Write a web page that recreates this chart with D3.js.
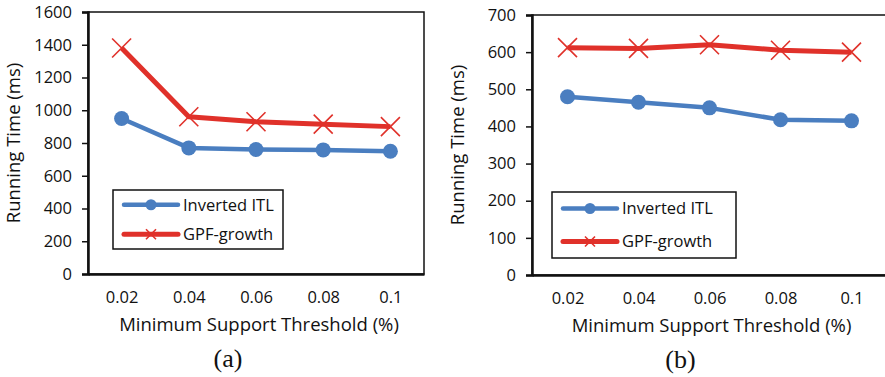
<!DOCTYPE html>
<html>
<head>
<meta charset="utf-8">
<script src="https://cdn.jsdelivr.net/npm/d3@7"></script>
<style>
  body { margin: 0; background: #fff; }
  text { font-family: "Open Sans", sans-serif; fill: #111; }
</style>
</head>
<body>
<div id="chart-area"></div>
<script>
// shared categories
const thresholds = ['0.02', '0.04', '0.06', '0.08', '0.1'];
const seriesNames = ['Inverted ITL', 'GPF-growth'];

// panel (a)
const invertedA = [950, 770, 760, 758, 750];
const gpfA = [1380, 960, 930, 915, 900];
const ticksA = [0, 200, 400, 600, 800, 1000, 1200, 1400, 1600];

// panel (b)
const invertedB = [480, 465, 450, 418, 415];
const gpfB = [612, 610, 620, 605, 600];
const ticksB = [0, 100, 200, 300, 400, 500, 600, 700];

const blue = '#4a7ec0';
const red = '#e0312a';

const svg = d3.select('#chart-area')
  .append('svg')
  .attr('width', 885)
  .attr('height', 377);

const panels = [
  {
    left: 88, right: 424, top: 12, bottom: 274,
    max: 1600, ticks: ticksA, inverted: invertedA, gpf: gpfA, label: '(a)',
    legend: { x: 113, y: 190, w: 170, h: 59 }
  },
  {
    left: 532, right: 887, top: 15, bottom: 275,
    max: 700, ticks: ticksB, inverted: invertedB, gpf: gpfB, label: '(b)',
    legend: { x: 552, y: 192, w: 184, h: 66 }
  }
];

panels.forEach(p => drawPanel(p));

function drawPanel(p) {
  const g = svg.append('g');

  const x = d3.scalePoint()
    .domain(thresholds)
    .range([p.left, p.right])
    .padding(0.5);

  const y = d3.scaleLinear()
    .domain([0, p.max])
    .range([p.bottom, p.top]);

  // frame
  g.append('rect')
    .attr('x', p.left)
    .attr('y', p.top)
    .attr('width', p.right - p.left)
    .attr('height', p.bottom - p.top)
    .attr('fill', 'none')
    .attr('stroke', '#111')
    .attr('stroke-width', 1.5);

  // y axis
  const yAxis = g.append('g')
    .attr('transform', `translate(${p.left},0)`)
    .call(d3.axisLeft(y).tickValues(p.ticks).tickFormat(d3.format('d')).tickSize(6).tickPadding(10));
  yAxis.select('.domain').attr('stroke', '#111').attr('stroke-width', 2.5);
  yAxis.selectAll('.tick line').attr('stroke', '#111').attr('stroke-width', 1.5);
  yAxis.selectAll('text').attr('font-size', '16.5px').attr('font-family', '"Open Sans", sans-serif').attr('fill', '#111');

  // x axis
  const xAxis = g.append('g')
    .attr('transform', `translate(0,${p.bottom})`)
    .call(d3.axisBottom(x).tickSize(0).tickPadding(17));
  xAxis.select('.domain').attr('stroke', '#111').attr('stroke-width', 2.5);
  xAxis.selectAll('text').attr('font-size', '16.5px').attr('font-family', '"Open Sans", sans-serif').attr('fill', '#111');

  // axis titles
  g.append('text')
    .attr('x', (p.left + Math.min(p.right, 885)) / 2 + 3)
    .attr('y', p.bottom + 57)
    .attr('text-anchor', 'middle')
    .attr('font-size', '18.5px')
    .text('Minimum Support Threshold (%)');

  g.append('text')
    .attr('transform', `translate(${p.left - 68},${(p.top + p.bottom) / 2}) rotate(-90)`)
    .attr('text-anchor', 'middle')
    .attr('font-size', '18.5px')
    .text('Running Time (ms)');

  g.append('text')
    .attr('x', (p.left + Math.min(p.right, 885)) / 2 - 28)
    .attr('y', p.bottom + 93)
    .attr('text-anchor', 'middle')
    .attr('font-size', '26px')
    .style('font-family', '"Liberation Serif", serif')
    .text(p.label);

  const line = d3.line()
    .x((d, i) => x(thresholds[i]))
    .y(d => y(d));

  // GPF-growth
  g.append('path')
    .datum(p.gpf)
    .attr('d', line)
    .attr('fill', 'none')
    .attr('stroke', red)
    .attr('stroke-width', 5)
    .attr('stroke-linejoin', 'round');

  g.selectAll('.cross')
    .data(p.gpf)
    .enter().append('path')
    .attr('class', 'cross')
    .attr('d', (d, i) => {
      const cx = x(thresholds[i]), cy = y(d), s = 9.5;
      return `M${cx - s},${cy - s}L${cx + s},${cy + s}M${cx - s},${cy + s}L${cx + s},${cy - s}`;
    })
    .attr('stroke', red)
    .attr('stroke-width', 1.6);

  // Inverted ITL
  g.append('path')
    .datum(p.inverted)
    .attr('d', line)
    .attr('fill', 'none')
    .attr('stroke', blue)
    .attr('stroke-width', 4.5)
    .attr('stroke-linejoin', 'round');

  g.selectAll('.dot')
    .data(p.inverted)
    .enter().append('circle')
    .attr('class', 'dot')
    .attr('cx', (d, i) => x(thresholds[i]))
    .attr('cy', d => y(d))
    .attr('r', 7.5)
    .attr('fill', blue);

  // legend
  const lg = g.append('g');
  lg.append('rect')
    .attr('x', p.legend.x)
    .attr('y', p.legend.y)
    .attr('width', p.legend.w)
    .attr('height', p.legend.h)
    .attr('fill', '#fff')
    .attr('stroke', '#111')
    .attr('stroke-width', 1.5);

  const rowGap = p.legend.h / 2;
  seriesNames.forEach((name, i) => {
    const ry = p.legend.y + rowGap * (i + 0.5);
    const x0 = p.legend.x + 11, x1 = x0 + 54, mx = (x0 + x1) / 2;
    const color = i === 0 ? blue : red;
    lg.append('line')
      .attr('x1', x0).attr('x2', x1)
      .attr('y1', ry).attr('y2', ry)
      .attr('stroke', color)
      .attr('stroke-width', i === 0 ? 4.5 : 5)
      .attr('stroke-linecap', 'round');
    if (i === 0) {
      lg.append('circle').attr('cx', mx).attr('cy', ry).attr('r', 5.5).attr('fill', blue);
    } else {
      const s = 5;
      lg.append('path')
        .attr('d', `M${mx - s},${ry - s}L${mx + s},${ry + s}M${mx - s},${ry + s}L${mx + s},${ry - s}`)
        .attr('stroke', red)
        .attr('stroke-width', 1.6);
    }
    lg.append('text')
      .attr('x', x1 + 5)
      .attr('y', ry)
      .attr('dy', '0.35em')
      .attr('font-size', '16.5px')
      .text(name);
  });
}
</script>
</body>
</html>
